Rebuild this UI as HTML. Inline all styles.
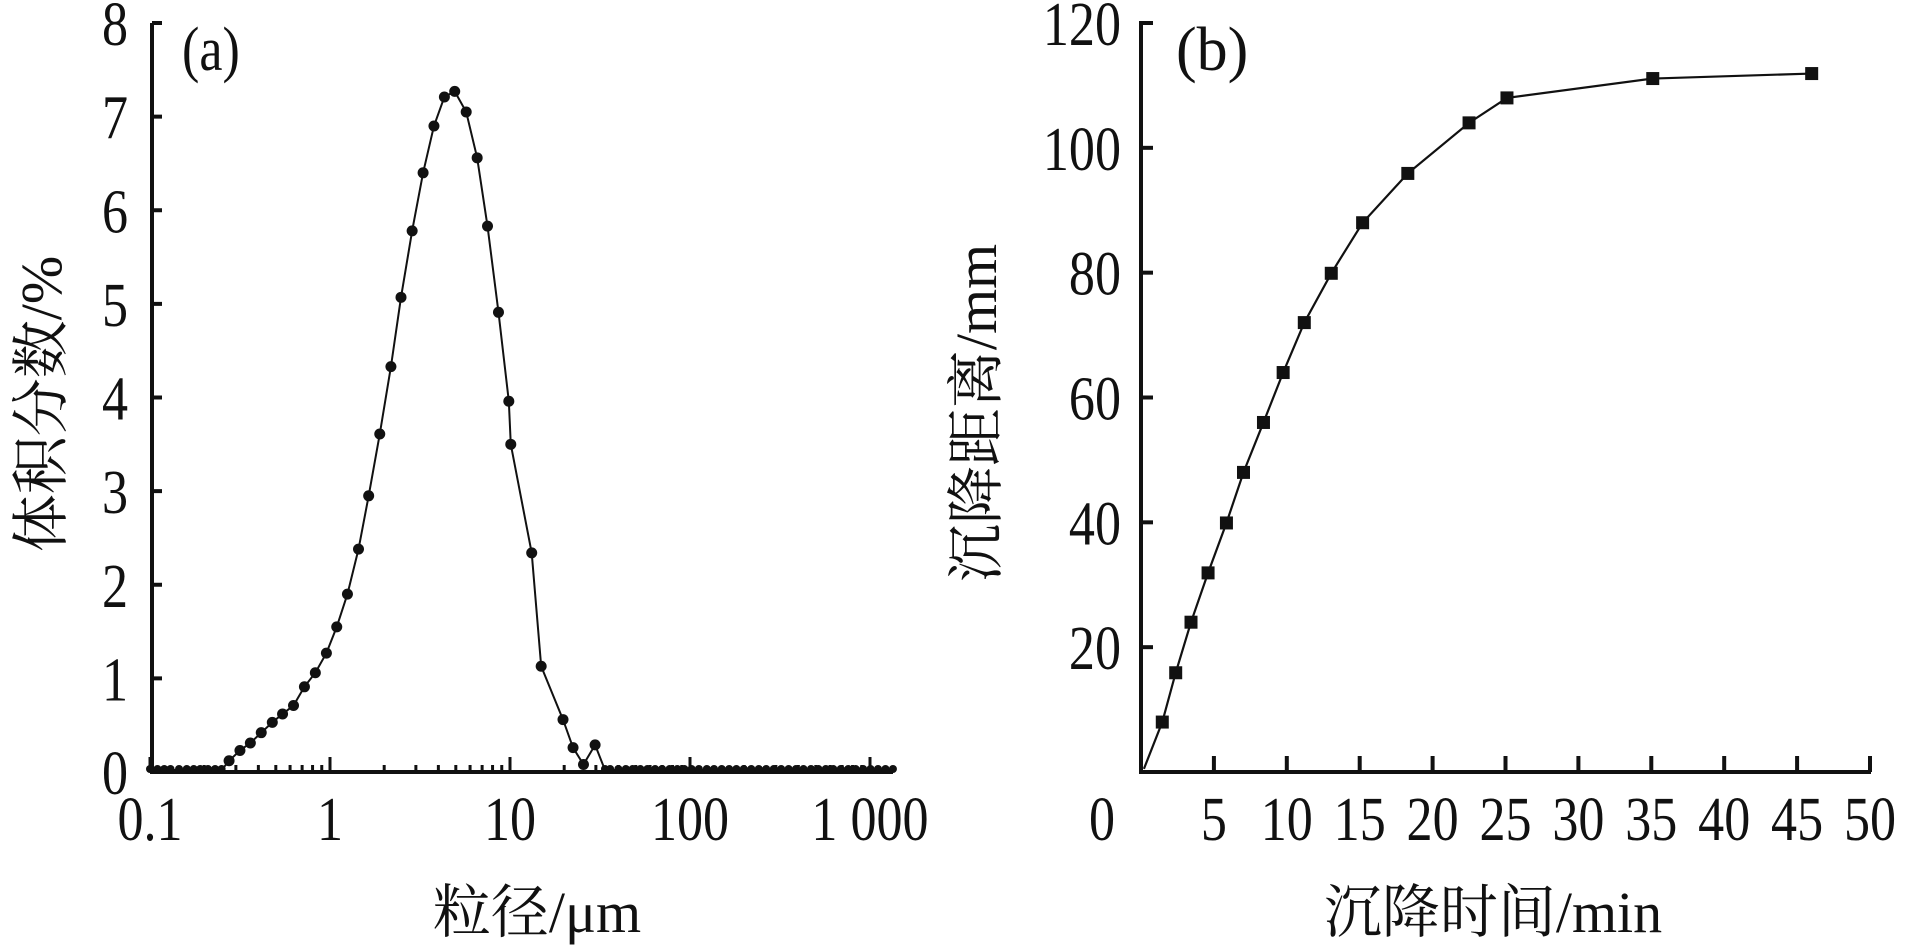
<!DOCTYPE html>
<html><head><meta charset="utf-8"><style>
html,body{margin:0;padding:0;background:#fff;}
svg{display:block;}
.num{font-family:"Liberation Serif",serif;font-size:62px;fill:#111;}
.cjk{font-family:"Liberation Serif","Noto Serif CJK SC",serif;font-size:58px;fill:#111;}
</style></head><body>
<svg id="fig" width="1913" height="945" viewBox="0 0 1913 945" xmlns="http://www.w3.org/2000/svg">
<g id="chartA"></g>
<g id="chartB"></g>
</svg>
<script>
// Chart (a) data
const sizesA = [0.1,0.11,0.12,0.13,0.145,0.16,0.175,0.19,0.21,0.23,0.25,
0.275,0.316,0.361,0.415,0.478,0.545,0.627,0.721,0.829,0.955,1.09,1.25,1.44,1.64,1.89,2.18,2.48,2.86,3.29,3.78,4.32,4.93,5.71,6.57,7.50,8.63,9.85,10.1,13.2,14.9,19.7,22.4,25.6,29.7,
33.7,36,40,44,48,53,58,64,70,77,85,93,102,112,124,136,150,165,181,199,219,241,265,292,321,353,388,427,470,517,568,625,688,757,832,916,1007,1108,1219,1341];
const volA = [0,0,0,0,0,0,0,0,0,0,0,
0.12,0.23,0.31,0.42,0.53,0.62,0.71,0.91,1.06,1.27,1.55,1.90,2.38,2.95,3.61,4.33,5.07,5.78,6.40,6.90,7.21,7.27,7.05,6.56,5.83,4.91,3.96,3.50,2.34,1.13,0.56,0.26,0.08,0.29,
0,0,0,0,0,0,0,0,0,0,0,0,0,0,0,0,0,0,0,0,0,0,0,0,0,0,0,0,0,0,0,0,0,0,0,0,0,0,0,0];
const xTicksA = [0.1,1,10,100,1000];
const xTickLabelsA = ["0.1","1","10","100","1 000"];
const yTicksA = [0,1,2,3,4,5,6,7,8];

// Chart (b) data
const timeB = [0.2,1.46,2.38,3.43,4.6,5.86,7.03,8.4,9.75,11.2,13.05,15.2,18.3,22.5,25.1,35.1,46.0];
const distB = [0.5,8,15.9,24,31.9,39.9,48,56,64,72,79.9,88,95.9,104,108,111.1,111.9];
const markedB = [false,true,true,true,true,true,true,true,true,true,true,true,true,true,true,true,true];
const xTicksB = [0,5,10,15,20,25,30,35,40,45,50];
const yTicksB = [20,40,60,80,100,120];

const NS="http://www.w3.org/2000/svg";
function mk(parent,tag,attrs){const e=document.createElementNS(NS,tag);for(const k in attrs)e.setAttribute(k,attrs[k]);parent.appendChild(e);return e;}
function txt(parent,x,y,s,cls,anchor){const g=mk(parent,'g',{transform:`translate(${x},${y}) scale(0.84,1)`});const t=mk(g,'text',{x:0,y:0,'text-anchor':anchor,class:cls});t.textContent=s;return t;}

// ---------- Chart A ----------
const A=document.getElementById('chartA');
const ax0=152, ay0=772, ayTop=23, axEnd=893;
const xA=v=>150+(Math.log10(v)+1)*180;
const yA=v=>ay0-(v/8)*(ay0-ayTop);
let e;
e=mk(A,'path',{d:`M${ax0} ${ayTop}H162M${ax0} ${ayTop}V${ay0}H${axEnd}`,fill:'none',stroke:'#111','stroke-width':4});

yTicksA.forEach(v=>{const y=yA(v);
 e=mk(A,'line',{x1:ax0,x2:162,y1:y,y2:y,stroke:'#111','stroke-width':4});
 
 e=txt(A,128,y+22,String(v),'num','end');
 
});
for(let d=0.1;d<1000;d*=10){for(let m=2;m<=9;m++){const x=xA(d*m);
 e=mk(A,'line',{x1:x,x2:x,y1:ay0,y2:ay0-7,stroke:'#111','stroke-width':3});
 }}
xTicksA.forEach((v,i)=>{const x=xA(v);
 e=mk(A,'line',{x1:x,x2:x,y1:ay0,y2:ay0-15,stroke:'#111','stroke-width':3});
 
 e=txt(A,x,840,xTickLabelsA[i],'num','middle');
 
});
e=mk(A,'polyline',{points:sizesA.map((s,i)=>`${xA(s)},${volA[i]>0?yA(volA[i]):ay0-2}`).join(' '),fill:'none',stroke:'#111','stroke-width':2});

sizesA.forEach((s,i)=>{const z=volA[i]===0;
 e=mk(A,'circle',{cx:xA(s),cy:z?ay0-3:yA(volA[i]),r:z?4:5.5,fill:'#111'});
 });
e=txt(A,182,70,'(a)','num','start');e.setAttribute('transform','');

e=mk(A,'text',{x:0,y:0,class:'cjk','text-anchor':'middle',transform:'translate(61,404) rotate(-90)'});
e.textContent='体积分数/%';

e=mk(A,'text',{x:537,y:932,class:'cjk','text-anchor':'middle'});
e.textContent='粒径/μm';


// ---------- Chart B ----------
const B=document.getElementById('chartB');
const bx0=1141, by0=772, byTop=23;
const xB=v=>bx0+(v/50)*(1870-bx0);
const yB=v=>by0-(v/120)*(by0-byTop);
e=mk(B,'path',{d:`M${bx0+10} ${byTop}H${bx0}V${by0}H1871`,fill:'none',stroke:'#111','stroke-width':4});

yTicksB.forEach(v=>{const y=yB(v);
 e=mk(B,'line',{x1:bx0,x2:bx0+12,y1:y,y2:y,stroke:'#111','stroke-width':4});
 
 e=txt(B,1121,y+22,String(v),'num','end');
 
});
xTicksB.forEach(v=>{const x=xB(v);
 if(v>0){e=mk(B,'line',{x1:x,x2:x,y1:by0,y2:by0-16,stroke:'#111','stroke-width':4});
 }
 e=txt(B,v===0?1102:x,840,String(v),'num','middle');
 
});
e=mk(B,'polyline',{points:timeB.map((t,i)=>`${xB(t)},${yB(distB[i])}`).join(' '),fill:'none',stroke:'#111','stroke-width':2.2});

timeB.forEach((t,i)=>{if(!markedB[i])return;
 e=mk(B,'rect',{x:xB(t)-6.5,y:yB(distB[i])-6.5,width:13,height:13,fill:'#111'});
 });
e=mk(B,'text',{x:1176,y:70,class:'num'});e.textContent='(b)';

e=mk(B,'text',{x:0,y:0,class:'cjk','text-anchor':'middle',transform:'translate(996,413) rotate(-90)'});
e.textContent='沉降距离/mm';

e=mk(B,'text',{x:1493,y:932,class:'cjk','text-anchor':'middle'});
e.textContent='沉降时间/min';

</script>
</body></html>
